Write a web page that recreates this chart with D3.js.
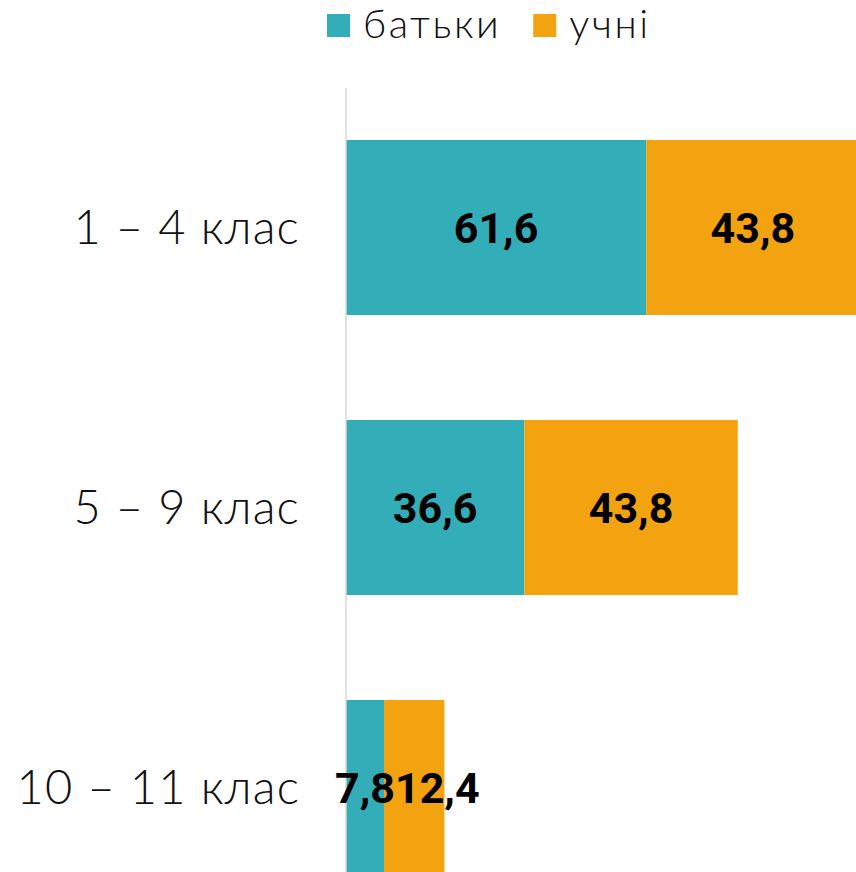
<!DOCTYPE html>
<html><head><meta charset="utf-8">
<script src="https://cdn.jsdelivr.net/npm/d3@7"></script>
<style>body{margin:0;background:#fff;overflow:hidden}svg{display:block}</style>
</head><body><svg id="c" width="856" height="872"></svg>
<script>
const categories = ["1 – 4 клас", "5 – 9 клас", "10 – 11 клас"];
const seriesNames = ["батьки", "учні"];
const parents = [61.6, 36.6, 7.8];
const students = [43.8, 43.8, 12.4];
const colors = ["#33aeb9", "#f2a30f"];

const svg = d3.select("#c");
const x = d3.scaleLinear().domain([0, 110]).range([346, 882]);
const y = d3.scaleBand().domain(categories).range([87.5, 927.5]).paddingInner(0.375).paddingOuter(0.1875);

const fmt = v => v.toFixed(1).replace(".", ",");
const data = categories.map((c, i) => ({cat: c, vals: [parents[i], students[i]]}));

data.forEach(d => {
  let acc = 0;
  d.segs = d.vals.map((v, k) => { const s = {k, v, x0: acc, x1: acc + v}; acc += v; return s; });
});
const g = svg.selectAll("g.bar").data(data).join("g").attr("class", "bar");
g.selectAll("rect").data(d => d.segs.map(s => ({...s, cat: d.cat}))).join("rect")
  .attr("x", s => x(s.x0)).attr("width", s => x(s.x1) - x(s.x0))
  .attr("y", s => y(s.cat)).attr("height", y.bandwidth())
  .attr("fill", s => colors[s.k]);

svg.append("line").attr("x1", x(0)).attr("x2", x(0)).attr("y1", 88).attr("y2", 872)
  .attr("stroke", "#d9d9d9").attr("stroke-width", 1.5);

const yAxis = d3.axisLeft(y).tickSize(0).tickPadding(46);
const ax = svg.append("g").attr("transform", `translate(${x(0)},0)`).call(yAxis);
ax.select(".domain").remove();
ax.selectAll("text").attr("font-family", "'Lato', 'Noto Sans', sans-serif").attr("font-weight", 300)
  .attr("font-size", 47).attr("letter-spacing", 1.2).attr("fill", "#111").attr("dy", "0.36em");

data.forEach(d => {
  let prevRight = -Infinity;
  d.segs.forEach(s => {
    const t = svg.append("text").text(fmt(s.v))
      .attr("font-family", "Roboto, sans-serif").attr("font-weight", 700).attr("font-size", 43)
      .attr("fill", "#000").attr("text-anchor", "middle")
      .attr("y", y(d.cat) + y.bandwidth() / 2).attr("dy", "0.36em");
    const w = t.node().getComputedTextLength();
    let cx = (x(s.x0) + x(s.x1)) / 2;
    if (cx - w / 2 < prevRight) cx = prevRight + w / 2;
    t.attr("x", cx);
    prevRight = cx + w / 2;
  });
});

const legend = svg.append("g");
let lx = 327;
seriesNames.forEach((n, k) => {
  legend.append("rect").attr("x", lx).attr("y", 14).attr("width", 23).attr("height", 23).attr("fill", colors[k]);
  const t = legend.append("text").attr("x", lx + 36).attr("y", 38).text(n)
    .attr("font-family", "'Lato', 'Noto Sans', sans-serif").attr("font-weight", 300)
    .attr("font-size", 40).attr("letter-spacing", 2.6).attr("fill", "#111");
  lx = lx + 36 + t.node().getComputedTextLength() + 32;
});
</script></body></html>
